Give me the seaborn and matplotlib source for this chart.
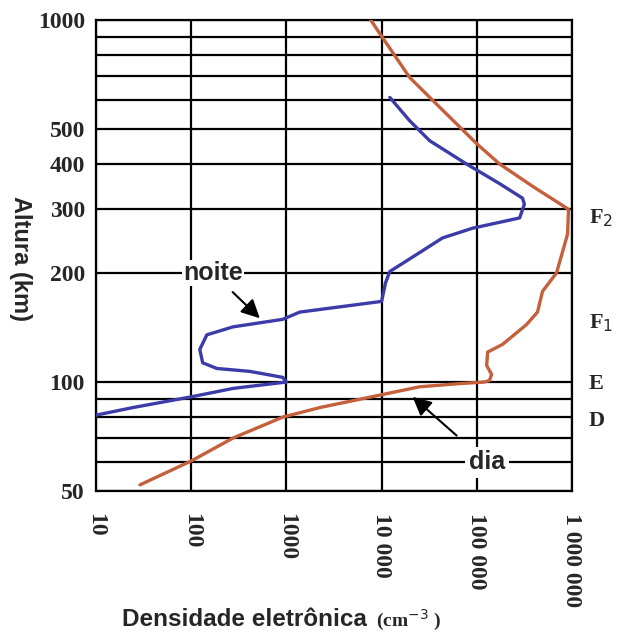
import matplotlib
matplotlib.use("Agg")
import matplotlib.pyplot as plt
import seaborn as sns
import pandas as pd
from matplotlib.ticker import FixedLocator, NullFormatter

# ---- data ----
day_density = [7500, 9500, 19700, 34400, 100000, 174000, 400000, 920000,
               898000, 687000, 490000, 434000, 332000, 186000, 130000,
               127000, 143000, 136000, 120000, 66000, 25000, 9550, 2240,
               916, 274, 101, 29]
day_altitude = [1010, 920, 694, 600, 455, 400, 345, 300,
                256, 200, 178, 156, 144, 127, 121,
                111, 105, 101, 100, 99, 97, 92, 85,
                80, 70, 60.6, 52]

night_density = [12200, 19700, 32000, 78200, 174000, 302000, 316000,
                 282000, 90300, 43600, 23300, 12200, 11000, 10000, 1380,
                 916, 274, 146, 123, 132, 186, 413, 916, 1000, 274, 100,
                 24.4, 10]
night_altitude = [611, 527, 464, 400, 353, 322, 310,
                  284, 266, 250, 225, 202, 188, 167, 156,
                  149, 142, 135, 123, 113, 109, 107, 103, 100, 96, 91,
                  85, 81]

x_ticks = [10, 100, 1000, 10000, 100000, 1000000]
x_tick_labels = ["10", "100", "1000", "10 000", "100 000", "1 000 000"]
y_major = [50, 100, 200, 300, 400, 500, 1000]
y_major_labels = ["50", "100", "200", "300", "400", "500", "1000"]
y_minor = [60, 70, 80, 90, 600, 700, 800, 900]
layer_labels = ["F$_2$", "F$_1$", "E", "D"]
layer_altitudes = [283, 145, 99, 78]

day_df = pd.DataFrame({"dens": day_density, "alt": day_altitude})
night_df = pd.DataFrame({"dens": night_density, "alt": night_altitude})

sns.set_style("white")
serif = ["Liberation Serif", "DejaVu Serif"]
sans = ["Liberation Sans Narrow", "Liberation Sans", "DejaVu Sans"]

fig = plt.figure(figsize=(6.17, 6.32), dpi=100)
ax = fig.add_axes([96/617, 1-491/632, (572-96)/617, (491-20)/632])

sns.lineplot(data=day_df, x="dens", y="alt", sort=False, estimator=None,
             color="#c4603c", lw=2.4, ax=ax, zorder=5)
sns.lineplot(data=night_df, x="dens", y="alt", sort=False, estimator=None,
             color="#3c3ca8", lw=2.4, ax=ax, zorder=5)

ax.set_xscale("log")
ax.set_yscale("log")
ax.set_xlim(10, 1e6)
ax.set_ylim(50, 1000)

ax.xaxis.set_major_locator(FixedLocator(x_ticks))
ax.xaxis.set_minor_locator(FixedLocator([]))
ax.set_xticklabels(x_tick_labels, rotation=-90, va="top", ha="center",
                   fontfamily=serif, fontweight="bold", fontsize=17)
ax.yaxis.set_major_locator(FixedLocator(y_major))
ax.yaxis.set_minor_locator(FixedLocator(y_minor))
ax.yaxis.set_minor_formatter(NullFormatter())
ax.set_yticklabels(y_major_labels, fontfamily=serif, fontweight="bold",
                   fontsize=17)

ax.tick_params(axis="both", which="major", direction="out", length=7,
               width=1.6, color="black")
ax.tick_params(axis="x", which="major", pad=9)
ax.tick_params(axis="y", which="major", pad=1)
ax.tick_params(axis="y", which="minor", length=0)
ax.grid(True, which="both", color="black", lw=1.6)
for s in ax.spines.values():
    s.set_color("black")
    s.set_linewidth(1.6)
ax.set_xlabel("")
ax.set_ylabel("")

# layer labels on right
for lab, alt in zip(layer_labels, layer_altitudes):
    ax.text(1.035, alt, lab, transform=ax.get_yaxis_transform(),
            fontfamily=serif, fontweight="bold", fontsize=16,
            va="center", ha="left")

# annotations
ax.annotate("noite", xy=(526, 150), xytext=(169, 200), textcoords="data",
            fontfamily=sans, fontweight="bold", fontsize=18,
            ha="center", va="center", zorder=6,
            bbox=dict(boxstyle="square,pad=0.05", fc="white", ec="none"),
            arrowprops=dict(arrowstyle="-|>", color="black", lw=1.5,
                            mutation_scale=28, shrinkA=6, shrinkB=0))
ax.annotate("dia", xy=(21200, 91), xytext=(128000, 60), textcoords="data",
            fontfamily=sans, fontweight="bold", fontsize=18,
            ha="center", va="center", zorder=6,
            bbox=dict(boxstyle="square,pad=0.15", fc="white", ec="none"),
            arrowprops=dict(arrowstyle="-|>", color="black", lw=1.5,
                            mutation_scale=28, shrinkA=12, shrinkB=0))

fig.text(20/617, 1-258/632, "Altura (km)", rotation=-90, ha="center",
         va="center", fontfamily=sans, fontweight="bold", fontsize=17)
fig.text(244/617, 1-620/632, "Densidade eletrônica", ha="center",
         va="center", fontfamily=sans, fontweight="bold", fontsize=17.5)
fig.text(376/617, 1-620/632, "(cm$^{-3}$ )", ha="left", va="center",
         fontfamily=serif, fontweight="bold", fontsize=14)

fig.savefig("out.png", dpi=100)
